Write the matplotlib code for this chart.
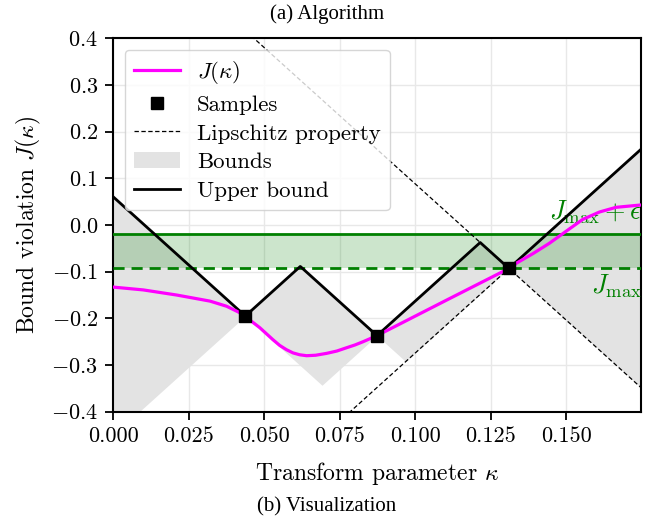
import numpy as np
import matplotlib
matplotlib.use("Agg")
import matplotlib.pyplot as plt

plt.rcParams["font.family"] = "serif"
plt.rcParams["font.serif"] = ["cmr10"]
plt.rcParams["mathtext.fontset"] = "cm"
plt.rcParams["axes.formatter.use_mathtext"] = True

# J(kappa)
kappa = [0.0, 0.0099, 0.021, 0.032, 0.0375, 0.0413, 0.0437, 0.0455, 0.0485,
         0.0507, 0.0529, 0.0551, 0.0573, 0.0595, 0.0617, 0.0640, 0.0670,
         0.0706, 0.0740, 0.0772, 0.0800, 0.0827, 0.0873, 0.1103,
         0.131, 0.1334, 0.1390, 0.1444, 0.150, 0.1554, 0.161, 0.1665, 0.1747]
J = [-0.133, -0.139, -0.150, -0.163, -0.174, -0.186, -0.195, -0.205, -0.220,
     -0.233, -0.246, -0.258, -0.267, -0.274, -0.278, -0.280, -0.279,
     -0.275, -0.270, -0.263, -0.257, -0.250, -0.237, -0.161,
     -0.093, -0.082, -0.061, -0.039, -0.013, 0.012, 0.028, 0.038, 0.043]

# samples
k_s = [0.0437, 0.0873, 0.131]
J_s = [-0.195, -0.237, -0.093]

L = 5.84          # Lipschitz constant
J_max = -0.093
eps = 0.074
k_max = 0.1747

x = np.linspace(0, k_max, 2000)
ks = np.array(k_s)[:, None]
Js = np.array(J_s)[:, None]
upper = np.min(Js + L * np.abs(x - ks), axis=0)
lower = np.max(Js - L * np.abs(x - ks), axis=0)

fig = plt.figure(figsize=(6.54, 5.18), dpi=100)
ax = fig.add_axes([0.1733, 0.2052, 0.8067, 0.7207])

ax.fill_between(x, lower, upper, color="#e3e3e3", lw=0, label="Bounds", zorder=1)
ax.fill_between([0, k_max], J_max, J_max + eps, color="green", alpha=0.2, lw=0, zorder=2)
ax.axhline(J_max + eps, color="green", lw=2, zorder=3)
ax.axhline(J_max, color="green", lw=2, ls=(0, (4, 2.5)), zorder=3)

# Lipschitz cone through last sample
ax.plot(x, J_s[2] + L * (x - k_s[2]), "k--", lw=0.9, dashes=(3.5, 2), zorder=4,
        label="Lipschitz property")
ax.plot(x, J_s[2] - L * (x - k_s[2]), "k--", lw=0.9, dashes=(3.5, 2), zorder=4)

ax.plot(x, upper, color="black", lw=2, label="Upper bound", zorder=5)
ax.plot(kappa, J, color="#ff00ff", lw=2.3, label=r"$J(\kappa)$", zorder=6)
ax.plot(k_s, J_s, "ks", ms=8, ls="none", label="Samples", zorder=7)

ax.text(0.1441, -0.003, r"$J_{\max}+\epsilon$", color="green", fontsize=19,
        va="bottom", clip_on=True)
ax.text(0.1582, -0.132, r"$J_{\max}$", color="green", fontsize=19,
        va="center", clip_on=True)

ax.set_xlim(0, k_max)
ax.set_ylim(-0.4, 0.4)
ax.set_xticks([0, 0.025, 0.05, 0.075, 0.1, 0.125, 0.15])
ax.set_xticklabels(["0.000", "0.025", "0.050", "0.075", "0.100", "0.125", "0.150"])
ax.set_yticks(np.arange(-0.4, 0.41, 0.1))
ax.tick_params(labelsize=16, length=6, width=1.3, pad=5)
for s in ax.spines.values():
    s.set_linewidth(1.5)
ax.grid(True, color="#e8e8e8", lw=1, zorder=0)
ax.set_axisbelow(True)

ax.set_xlabel(r"Transform parameter $\kappa$", fontsize=17, labelpad=10)
ax.set_ylabel(r"Bound violation $J(\kappa)$", fontsize=17, labelpad=6)

h, l = ax.get_legend_handles_labels()
order = [l.index(n) for n in [r"$J(\kappa)$", "Samples", "Lipschitz property", "Bounds", "Upper bound"]]
ax.legend([h[i] for i in order], [l[i] for i in order], loc="upper left",
          fontsize=16.5, framealpha=0.8, borderaxespad=0.5, labelspacing=0.38,
          handletextpad=0.75)

fig.text(0.5, 0.972, "(a) Algorithm", ha="center", va="center",
         family="Liberation Serif", fontsize=15)
fig.text(0.5, 0.021, "(b) Visualization", ha="center", va="center",
         family="Liberation Serif", fontsize=15)

fig.savefig("out.png", dpi=100)
